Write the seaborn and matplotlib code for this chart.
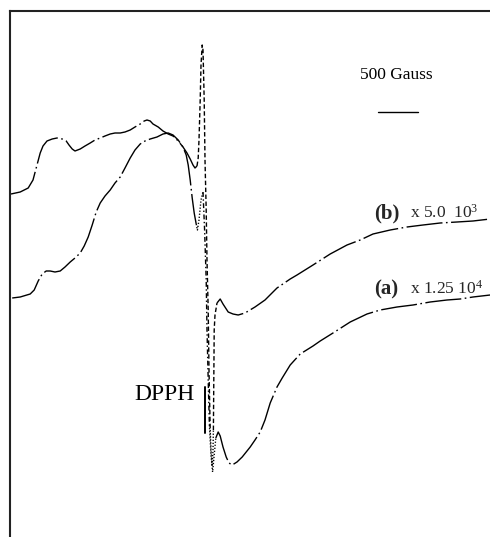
import matplotlib
matplotlib.use("Agg")
import matplotlib.pyplot as plt
import seaborn as sns
import pandas as pd

# Magnetic field (Gauss) and derivative signal (arb. units) for the two EPR traces.
# Spectrum (b): broad low-field part, narrow central line, dotted tip, return, high-field part
b_field = [925, 1040, 1140, 1200, 1250, 1290, 1325, 1375, 1440, 1500, 1565, 1615, 1650,
           1690, 1725, 1790, 1850, 1915, 1975, 2040, 2100, 2165, 2225, 2290, 2350, 2415,
           2475, 2540, 2590, 2625, 2665, 2700, 2765, 2825, 2890, 2950, 3015, 3075, 3125,
           3165, 3200, 3225, 3250]
b_signal = [343, 345, 349, 357, 372, 384, 391, 396, 398, 399, 398, 396, 392,
            388, 386, 388, 391, 394, 397, 399, 401, 403, 404, 404, 405, 407,
            410, 413, 416, 417, 416, 413, 410, 406, 403, 401, 396, 390, 384,
            378, 372, 369, 371]
b_line_field = [3250, 3265, 3275, 3290, 3300, 3315, 3325, 3340, 3350, 3365, 3375, 3390, 3400, 3415]
b_line_signal = [371, 379, 397, 437, 472, 492, 487, 437, 377, 327, 277, 227, 167, 107]
b_tip_field = [3415, 3425, 3440, 3450, 3455]
b_tip_signal = [107, 87, 71, 87, 107]
b_return_field = [3455, 3460, 3465, 3475, 3500]
b_return_signal = [107, 157, 207, 222, 234]
b_high_field = [3500, 3540, 3575, 3640, 3700, 3765, 3850, 3975, 4100, 4250, 4415, 4500,
                4700, 4915, 5125, 5290, 5450, 5665, 5875, 6075, 6290, 6500, 6700, 6915]
b_high_signal = [234, 238, 233, 225, 223, 222, 224, 230, 237, 249, 258, 262,
                 272, 283, 292, 297, 303, 307, 310, 312, 314, 315, 316, 318]

# Spectrum (a)
a_field = [940, 1040, 1165, 1215, 1265, 1315, 1365, 1415, 1475, 1540, 1600, 1665, 1725,
           1790, 1840, 1890, 1940, 1990, 2040, 2100, 2165, 2225, 2290, 2350, 2415, 2475,
           2540, 2600, 2665, 2750, 2825, 2890, 2950, 3015, 3075, 3115, 3140, 3165, 3190,
           3215, 3240]
a_signal = [239, 240, 243, 247, 256, 263, 266, 266, 265, 266, 270, 275, 279,
            284, 291, 300, 312, 325, 334, 341, 347, 354, 360, 369, 379, 387,
            393, 396, 398, 400, 403, 404, 402, 397, 390, 382, 372, 357, 339,
            324, 313]
a_tip1_field = [3240, 3255, 3275, 3300, 3325]
a_tip1_signal = [313, 307, 317, 337, 345]
a_line_field = [3325, 3345, 3365, 3375, 3390, 3405]
a_line_signal = [345, 307, 257, 207, 157, 112]
a_tip2_field = [3405, 3425, 3445, 3465, 3485]
a_tip2_signal = [112, 82, 65, 82, 99]
a_high_field = [3485, 3515, 3540, 3575, 3615, 3650, 3690, 3750, 3815, 3915, 3975, 4040,
                4100, 4165, 4250, 4315, 4415, 4540, 4700, 4790, 4950, 5165, 5375, 5540,
                5750, 5950, 6165, 6375, 6540, 6700, 6915]
a_high_signal = [99, 105, 101, 90, 80, 74, 72, 75, 80, 90, 97, 105,
                 117, 134, 150, 159, 172, 183, 191, 196, 204, 215, 223, 227,
                 230, 232, 235, 237, 238, 240, 242]

# DPPH reference marker and field scale bar
dpph_field = 3350
dpph_range = [104, 150]
scale_bar_field = [5515, 6015]
scale_bar_signal = 425

plt.rcParams["lines.scale_dashes"] = False
sns.set_theme(style="white")
plt.rcParams["font.family"] = ["Liberation Serif", "DejaVu Serif"]
plt.rcParams["mathtext.fontset"] = "custom"
plt.rcParams["mathtext.rm"] = "Liberation Serif"
plt.rcParams["mathtext.it"] = "Liberation Serif:italic"
plt.rcParams["mathtext.bf"] = "Liberation Serif:bold"

fig = plt.figure(figsize=(4.9, 5.37), dpi=100)
ax = fig.add_axes([10 / 490, 0, 1 - 10 / 490, 526 / 537])

broad = (0, (26, 2.5, 1.2, 2.5))
dashed = (0, (3.2, 1.8))
dashdot = (0, (3.5, 1.8, 1, 1.8))
dotted = (0, (0.9, 1.3))

segments = [
    (b_field, b_signal, broad),
    (b_line_field, b_line_signal, dashed),
    (b_tip_field, b_tip_signal, dotted),
    (b_return_field, b_return_signal, dashed),
    (b_high_field, b_high_signal, broad),
    (a_field, a_signal, broad),
    (a_tip1_field, a_tip1_signal, dotted),
    (a_line_field, a_line_signal, dashdot),
    (a_tip2_field, a_tip2_signal, dotted),
    (a_high_field, a_high_signal, broad),
]
for fx, sy, ls in segments:
    df = pd.DataFrame({"field": fx, "signal": sy})
    sns.lineplot(data=df, x="field", y="signal", sort=False, estimator=None,
                 color="black", lw=1.0, linestyle=ls, ax=ax)

# DPPH marker
ax.plot([dpph_field, dpph_field], dpph_range, color="black", lw=1.4)
ax.text(3220, 142, "DPPH", ha="right", va="center", fontsize=17, color="black")

# Scale bar
ax.plot(scale_bar_field, [scale_bar_signal, scale_bar_signal], color="black", lw=1.0)
ax.text(sum(scale_bar_field) / 2 - 20, 462, "500 Gauss", ha="center", va="center",
        fontsize=12.5, color="black")

# Trace labels
ax.text(5465, 319, "(b)", ha="left", va="baseline", fontsize=15, fontweight="bold")
ax.text(5912, 319, "x 5.0  10$^3$", ha="left", va="baseline", fontsize=12.5)
ax.text(5465, 243, "(a)", ha="left", va="baseline", fontsize=15, fontweight="bold")
ax.text(5912, 243, "x 1.25 10$^4$", ha="left", va="baseline", fontsize=12.5)

ax.set_xlim(912.5, 6912.5)
ax.set_ylim(0, 526)
ax.set_xticks([])
ax.set_yticks([])
ax.set_xlabel("")
ax.set_ylabel("")
for side in ("right", "bottom"):
    ax.spines[side].set_visible(False)
for side in ("left", "top"):
    ax.spines[side].set_color("#222222")
    ax.spines[side].set_linewidth(1.5)
    ax.spines[side].set_visible(True)

fig.savefig("out.png", dpi=100)
